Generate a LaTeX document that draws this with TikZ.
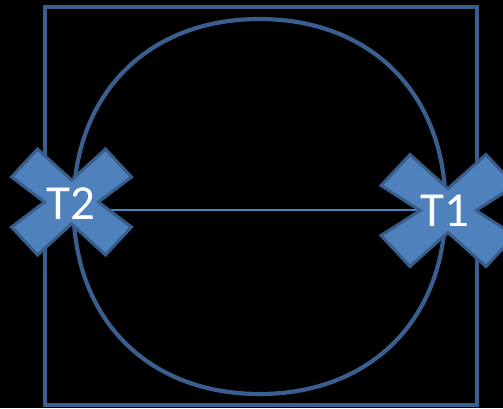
\documentclass[tikz,border=0pt]{standalone}
\usepackage{fontspec}
\setmainfont{Carlito}
\definecolor{edgeblue}{HTML}{3A5F8E}
\definecolor{fillblue}{HTML}{4F81BD}
\definecolor{crossedge}{HTML}{385D8A}
\tikzset{
  frame/.style={draw=edgeblue, line width=4.2pt},
  crossshape/.style={fill=fillblue, draw=crossedge, line width=3pt, line join=miter},
  label/.style={text=white, font=\fontsize{49}{49}\selectfont, inner sep=0pt},
  link/.style={draw=fillblue, line width=1.8pt}
}
\begin{document}
\begin{tikzpicture}[x=1pt,y=-1pt]
\fill[black] (0,0) rectangle (503,408);
\useasboundingbox (0,0) rectangle (503,408);
\clip (0,0) rectangle (503,408);
% frame and round outline
\draw[frame] (45,7) rectangle (477,405);
\draw[frame] (259.5,19) .. controls (147.9,19) and (73.5,94) .. (73.5,206.5)
  .. controls (73.5,319) and (147.9,394) .. (259.5,394)
  .. controls (371.1,394) and (445.5,319) .. (445.5,206.5)
  .. controls (445.5,94) and (371.1,19) .. (259.5,19) -- cycle;
% connector endpoints
\coordinate (c2) at (71.5,210);
\coordinate (c1) at (448,210);
\draw[link] (c2) -- (c1);
% cross T2
\draw[crossshape] (71.5,202) ++(-27,0) -- ++(-33,-25) -- ++(26,-28) -- ++(34,31) -- ++(34,-31) -- ++(26,28) -- ++(-33,25)
  -- ++(33,25) -- ++(-26,28) -- ++(-34,-31) -- ++(-34,31) -- ++(-26,-28) -- cycle;
% cross T1
\draw[crossshape] (448,210.5) ++(-28,0) -- ++(-39,-25) -- ++(29,-31) -- ++(38,34) -- ++(38,-34) -- ++(29,31) -- ++(-39,25)
  -- ++(39,25) -- ++(-29,31) -- ++(-38,-34) -- ++(-38,34) -- ++(-29,-31) -- cycle;
\node[label] (t2) at (71,204) {T2};
\node[label] (t1) at (445,211) {T1};
\end{tikzpicture}
\end{document}
